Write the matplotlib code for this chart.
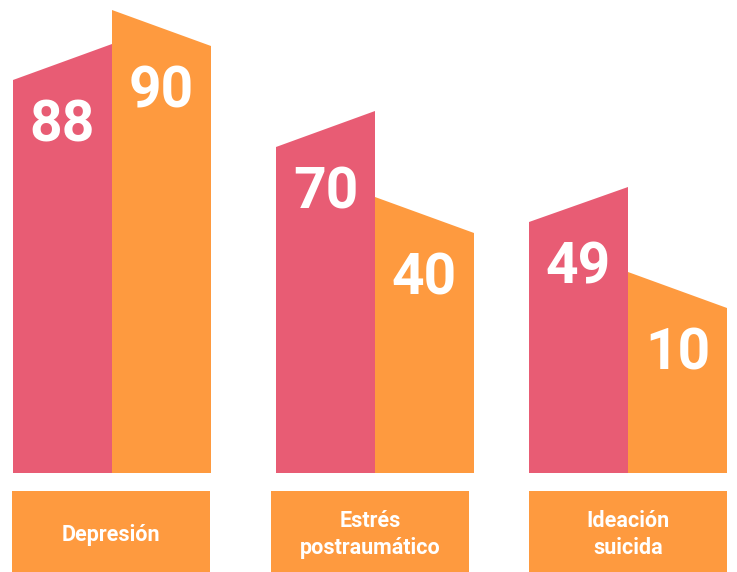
import matplotlib
matplotlib.use("Agg")
import matplotlib.pyplot as plt
from matplotlib.patches import Rectangle

categories = ['Depresión', 'Estrés\npostraumático', 'Ideación\nsuicida']
pink_values = [88, 70, 49]
orange_values = [90, 40, 10]
# visual heights of the slanted tops (left edge, right edge), as drawn in the infographic
pink_left = [393, 326, 251]
pink_right = [429, 362, 286]
orange_left = [463, 276, 201]
orange_right = [427, 240, 165]

PINK = '#E85C74'
ORANGE = '#FE9A3F'

group_x = [13, 276, 529]   # left edge of each pair of bars
label_x = [12, 271, 529]   # left edge of each label box
bar_w = 99
base = 99                  # baseline of the bars
box_y0, box_h = 0, 81

fig = plt.figure(figsize=(7.37, 5.72), dpi=100)
ax = fig.add_axes([0, 0, 1, 1])
ax.set_xlim(0, 737)
ax.set_ylim(0, 572)
ax.axis('off')

fams = ['Roboto', 'DejaVu Sans']
num_font = dict(family=fams, fontweight='bold',
                color='white', fontsize=41, ha='center', va='center_baseline')

for i in range(len(categories)):
    x0 = group_x[i]
    x1 = x0 + bar_w
    x2 = x1 + bar_w
    # pink bar, top rises to the right
    ax.fill([x0, x1, x1, x0], [base, base, base + pink_right[i], base + pink_left[i]],
            color=PINK, lw=0)
    # orange bar, top drops to the right
    ax.fill([x1, x2, x2, x1], [base, base, base + orange_right[i], base + orange_left[i]],
            color=ORANGE, lw=0)
    pm = base + (pink_left[i] + pink_right[i]) / 2
    om = base + (orange_left[i] + orange_right[i]) / 2
    ax.text((x0 + x1) / 2, pm - 58, str(pink_values[i]), **num_font)
    ax.text((x1 + x2) / 2, om - 58, str(orange_values[i]), **num_font)

    # label box
    ax.add_patch(Rectangle((label_x[i], box_y0), 2 * bar_w, box_h, color=ORANGE, lw=0))
    ax.text(label_x[i] + bar_w, box_y0 + box_h / 2 - 3, categories[i], color='white',
            fontsize=15.5, fontweight='bold', family=fams,
            ha='center', va='center', linespacing=1.3)

fig.savefig('out.png', dpi=100)
